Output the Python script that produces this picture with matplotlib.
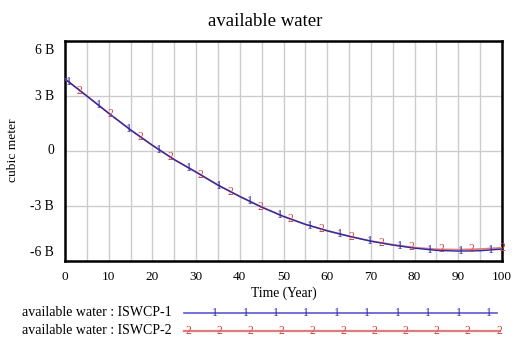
import numpy as np
import matplotlib
matplotlib.use('Agg')
import matplotlib.pyplot as plt
import matplotlib.transforms as mtransforms

plt.rcParams['font.family'] = ['Liberation Serif', 'DejaVu Serif']

# Data (billions of cubic meters)
years = [0, 5, 10, 15, 20, 25, 30, 35, 40, 45, 50, 55, 60, 65, 70, 75, 80, 85, 90, 95, 100]
iswcp1 = [3.93, 3.0, 2.06, 1.15, 0.31, -0.47, -1.15, -1.86, -2.48, -3.06, -3.57, -4.0, -4.35,
          -4.65, -4.92, -5.13, -5.30, -5.42, -5.46, -5.44, -5.35]
iswcp2 = [3.93, 3.0, 2.06, 1.15, 0.31, -0.47, -1.15, -1.86, -2.48, -3.06, -3.57, -4.0, -4.35,
          -4.65, -4.91, -5.11, -5.27, -5.36, -5.38, -5.35, -5.28]
y_ticks = [-6, -3, 0, 3, 6]
y_tick_labels = ['-6 B', '-3 B', '0', '3 B', '6 B']
series_names = ['available water : ISWCP-1', 'available water : ISWCP-2']

blue = '#2a2aa6'
blue_light = '#5a5ad0'
red = '#d04848'
red_light = '#e07c7c'

W, H = 518, 338
fig = plt.figure(figsize=(W / 100, H / 100), dpi=100)
ax = fig.add_axes([65 / W, (H - 261) / H, 437 / W, 220 / H])

ax.plot(years, iswcp2, color=red_light, lw=1.3, zorder=3)
ax.plot(years, iswcp1, color=blue, lw=1.0, zorder=4)

# numbered markers along the lines, as Vensim draws them
t1 = np.arange(0.8, 100, 6.9)
for t in t1:
    ax.text(t, np.interp(t, years, iswcp1), '1', color=blue, fontsize=8.5,
            ha='center', va='center', zorder=5)
t2 = 100 - 6.9 * np.arange(15)
for t in t2:
    ax.text(t, np.interp(t, years, iswcp2), '2', color=red, fontsize=8.5,
            ha='center', va='center', zorder=5)

ax.set_xlim(0, 100)
ax.set_ylim(-6, 6)
ax.set_xticks(range(0, 101, 10))
ax.set_xticks(range(5, 100, 10), minor=True)
ax.set_yticks(y_ticks)
ax.set_yticklabels([])
ax.tick_params(axis='both', which='both', length=0, labelsize=9.5)
ax.tick_params(axis='x', pad=7)
ax.grid(True, which='both', color='#cccccc', lw=1)
ax.set_axisbelow(True)
for s in ax.spines.values():
    s.set_linewidth(1.8)
    s.set_color('black')

# y tick labels, end labels pulled inside the axis span
trans = mtransforms.blended_transform_factory(ax.transAxes, ax.transData)
for v, lab in zip(y_ticks, y_tick_labels):
    dy = -10 if v == 6 else (9 if v == -6 else 0)
    tr = trans + mtransforms.ScaledTranslation(0, dy / 100, fig.dpi_scale_trans)
    ax.text(-0.025, v, lab, transform=tr, ha='right', va='center', fontsize=9.8)

ax.set_xlabel('Time (Year)', fontsize=9.8, labelpad=3)
fig.text(13 / W, 1 - 150 / H, 'cubic meter', rotation=90, ha='center', va='center', fontsize=9.7)
fig.text(265 / W, 1 - 21 / H, 'available water', ha='center', va='center', fontsize=13.5)

# legend below the plot
lg = fig.add_axes([0, 0, 1, 1])
lg.set_xlim(0, W)
lg.set_ylim(H, 0)
lg.axis('off')
rows = [313, 331]
lg.text(172, rows[0], series_names[0], ha='right', va='center', fontsize=10)
lg.text(172, rows[1], series_names[1], ha='right', va='center', fontsize=10)
lg.plot([184, 497], [rows[0], rows[0]], color=blue_light, lw=1.2)
lg.plot([184, 500], [rows[1], rows[1]], color=red_light, lw=1.6)
for x in np.linspace(215, 489, 10):
    lg.text(x, rows[0], '1', color=blue, fontsize=8.5, ha='center', va='center')
for x in np.linspace(188, 499, 11):
    lg.text(x, rows[1], '2', color=red, fontsize=8.5, ha='center', va='center')

fig.savefig('out.png', dpi=100)
